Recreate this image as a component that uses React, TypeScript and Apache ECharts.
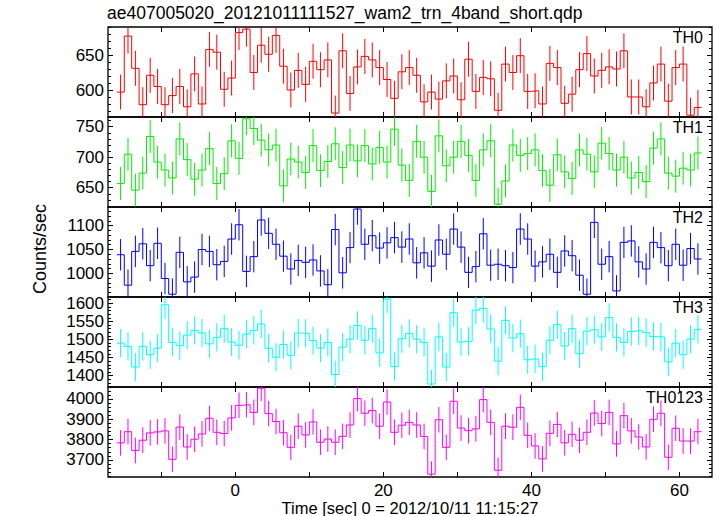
import React, { useEffect, useRef } from "react";
import * as echarts from "echarts";

const TIME_START = -16;
const BIN_WIDTH = 1;

const TH0 = [598,678,632,580,622,606,580,593,606,577,624,581,659,655,602,618,683,688,626,665,652,679,635,601,629,609,642,630,644,568,657,596,634,649,644,633,616,589,627,633,622,584,598,588,614,621,587,645,599,619,617,572,638,626,650,599,600,581,639,633,582,595,630,653,621,629,634,631,657,591,591,577,611,638,585,633,638,565,576];
const TH1 = [657,705,646,674,734,692,679,666,730,696,664,679,714,657,673,727,698,763,747,728,712,720,653,697,692,675,719,678,693,722,683,720,694,719,689,716,692,746,687,662,726,700,644,735,686,700,726,703,662,712,727,623,661,720,703,706,712,678,654,704,676,665,712,705,676,723,706,679,700,666,675,660,715,730,674,669,682,679,707];
const TH2 = [1039,975,1046,1062,1016,1063,989,956,1044,982,992,1050,1046,1018,1025,1072,1102,1004,1035,1112,1084,1061,1036,1009,1027,1023,1028,1005,976,1092,1001,1054,1135,1061,1079,1053,1064,1075,1055,1072,1022,1043,1015,1070,1040,1093,1055,1002,1014,1083,1017,1019,1016,1012,1093,1072,1015,1024,1040,1002,1047,1037,996,956,1107,1019,1035,963,1065,1068,1024,1009,1065,1054,1016,1061,1017,1052,1030];
const TH3 = [1490,1481,1424,1481,1458,1476,1596,1492,1483,1512,1525,1518,1488,1506,1530,1493,1484,1515,1525,1543,1476,1451,1486,1456,1518,1517,1497,1476,1492,1403,1479,1501,1539,1498,1530,1463,1612,1425,1502,1517,1501,1492,1377,1507,1424,1574,1493,1495,1581,1586,1529,1440,1553,1504,1516,1444,1446,1425,1498,1541,1482,1530,1461,1523,1527,1507,1561,1506,1492,1522,1524,1519,1508,1507,1438,1490,1458,1501,1528];
const TH0123 = [3784,3839,3746,3797,3833,3838,3843,3703,3862,3764,3802,3828,3905,3836,3830,3907,3969,3972,3934,4053,3928,3889,3834,3762,3866,3823,3887,3787,3803,3787,3816,3872,4002,3930,3943,3866,3985,3836,3871,3885,3872,3816,3630,3898,3762,3989,3857,3844,3853,3997,3885,3649,3866,3861,3959,3821,3769,3705,3831,3875,3784,3826,3797,3836,3931,3879,3934,3779,3918,3843,3813,3764,3900,3930,3713,3856,3793,3793,3839];

const TH0_ERR = 25;
const TH1_ERR = 27;
const TH2_ERR = 33;
const TH3_ERR = 39;
const TH0123_ERR = 63;

const TH0_TICKS = [600, 650];
const TH1_TICKS = [650, 700, 750];
const TH2_TICKS = [1000, 1050, 1100];
const TH3_TICKS = [1400, 1450, 1500, 1550, 1600];
const TH0123_TICKS = [3700, 3800, 3900, 4000];

const X_TICKS = [-10, 0, 10, 20, 30, 40, 50, 60];
const X_LABELS = [0, 20, 40, 60];

const TITLE = "ae407005020_20121011111527_wam2_trn_4band_short.qdp";
const X_NAME = "Time [sec] 0 = 2012/10/11 11:15:27";
const Y_NAME = "Counts/sec";

const XMIN = -17.2;
const XMAX = 64.4;
const FONT = '"Liberation Sans", Arial, Helvetica, sans-serif';

const PANELS = [
  { name: "TH0", color: "#ff0000", values: TH0, err: TH0_ERR, min: 562.4, max: 691, major: TH0_TICKS, minorStep: 10 },
  { name: "TH1", color: "#00ee00", values: TH1, err: TH1_ERR, min: 618.4, max: 765.9, major: TH1_TICKS, minorStep: 10 },
  { name: "TH2", color: "#0000ff", values: TH2, err: TH2_ERR, min: 950.2, max: 1139.3, major: TH2_TICKS, minorStep: 10 },
  { name: "TH3", color: "#00ffff", values: TH3, err: TH3_ERR, min: 1368.8, max: 1617.4, major: TH3_TICKS, minorStep: 10 },
  { name: "TH0123", color: "#ff00ff", values: TH0123, err: TH0123_ERR, min: 3616, max: 4059, major: TH0123_TICKS, minorStep: 20 },
];

const GRID_TOP = 27;
const GRID_H = 90;
const GRID_LEFT = 108;
const GRID_RIGHT = 5;

function minorValues(min: number, max: number, step: number, major: number[]) {
  const out: number[] = [];
  for (let v = Math.ceil(min / step) * step; v <= max; v += step) {
    if (!major.includes(v)) out.push(v);
  }
  return out;
}

const plain = (v: number) => String(v);

function buildOption() {
  const grid: any[] = [];
  const xAxis: any[] = [];
  const yAxis: any[] = [];
  const series: any[] = [];
  const graphic: any[] = [];

  PANELS.forEach((p, k) => {
    const top = GRID_TOP + GRID_H * k;
    grid.push({
      left: GRID_LEFT,
      right: GRID_RIGHT,
      top,
      height: GRID_H,
      show: true,
      borderColor: "#000",
      borderWidth: 1.3,
      backgroundColor: "transparent",
    });
    ["bottom", "top"].forEach((pos) => {
      xAxis.push({
        type: "value",
        gridIndex: k,
        position: pos,
        min: XMIN,
        max: XMAX,
        axisLine: { show: false, onZero: false },
        splitLine: { show: false },
        axisTick: { show: true, inside: true, length: 5, customValues: X_TICKS, lineStyle: { color: "#000", width: 1 } },
        axisLabel: {
          show: pos === "bottom" && k === PANELS.length - 1,
          customValues: X_LABELS,
          formatter: plain,
          color: "#000",
          fontSize: 17,
          fontFamily: FONT,
          margin: 5,
        },
      });
    });
    const minors = minorValues(p.min, p.max, p.minorStep, p.major);
    ["left", "right"].forEach((pos) => {
      yAxis.push({
        type: "value",
        gridIndex: k,
        position: pos,
        min: p.min,
        max: p.max,
        axisLine: { show: false, onZero: false },
        splitLine: { show: false },
        axisTick: { show: true, inside: true, length: 5, customValues: p.major, lineStyle: { color: "#000", width: 1 } },
        axisLabel: {
          show: pos === "left",
          customValues: p.major,
          formatter: plain,
          color: "#000",
          fontSize: 17,
          fontFamily: FONT,
          margin: 4,
        },
      });
      yAxis.push({
        type: "value",
        gridIndex: k,
        position: pos,
        min: p.min,
        max: p.max,
        axisLine: { show: false, onZero: false },
        splitLine: { show: false },
        axisTick: { show: true, inside: true, length: 3, customValues: minors, lineStyle: { color: "#000", width: 1 } },
        axisLabel: { show: false },
      });
    });

    const stepData = p.values.map((v, i) => [TIME_START + i * BIN_WIDTH, v]);
    stepData.push([TIME_START + p.values.length * BIN_WIDTH, p.values[p.values.length - 1]]);
    const errData = p.values.map((v, i) => [TIME_START + (i + 0.5) * BIN_WIDTH, v, p.err]);

    series.push({
      type: "line",
      xAxisIndex: 2 * k,
      yAxisIndex: 4 * k,
      data: stepData,
      step: "end",
      symbol: "none",
      showSymbol: false,
      silent: true,
      lineStyle: { color: p.color, width: 1 },
      z: 3,
    });
    const color = p.color;
    series.push({
      type: "custom",
      xAxisIndex: 2 * k,
      yAxisIndex: 4 * k,
      data: errData,
      clip: true,
      silent: true,
      encode: { x: 0, y: 1 },
      renderItem: (params: any, api: any) => {
        const x = api.value(0);
        const v = api.value(1);
        const e = api.value(2);
        const p1 = api.coord([x, v - e]);
        const p2 = api.coord([x, v + e]);
        return {
          type: "line",
          shape: { x1: p1[0], y1: p1[1], x2: p2[0], y2: p2[1] },
          style: { stroke: color, lineWidth: 1 },
        };
      },
      z: 2,
    });

    graphic.push({
      type: "text",
      x: 703,
      y: top + 10.5,
      style: {
        text: p.name,
        fill: "#000",
        font: `16px ${FONT}`,
        align: "right",
        verticalAlign: "middle",
      },
    });
  });

  graphic.push({
    type: "text",
    x: 107,
    y: 13,
    style: { text: TITLE, fill: "#000", font: `17.5px ${FONT}`, align: "left", verticalAlign: "middle" },
  });
  graphic.push({
    type: "text",
    x: 410,
    y: 508,
    style: { text: X_NAME, fill: "#000", font: `16.5px ${FONT}`, align: "center", verticalAlign: "middle" },
  });
  graphic.push({
    type: "text",
    x: 40,
    y: 249,
    rotation: Math.PI / 2,
    style: { text: Y_NAME, fill: "#000", font: `18px ${FONT}`, align: "center", verticalAlign: "middle" },
  });

  return {
    animation: false,
    backgroundColor: "#fff",
    grid,
    xAxis,
    yAxis,
    series,
    graphic,
  };
}

export default function App() {
  const ref = useRef<HTMLDivElement>(null);
  useEffect(() => {
    if (!ref.current) return;
    const chart = echarts.init(ref.current, null, { renderer: "svg" });
    chart.setOption(buildOption() as any);
    return () => chart.dispose();
  }, []);
  return (
    <div
      ref={ref}
      style={{ position: "fixed", left: 0, top: 0, width: 717, height: 516, background: "#fff" }}
    />
  );
}
